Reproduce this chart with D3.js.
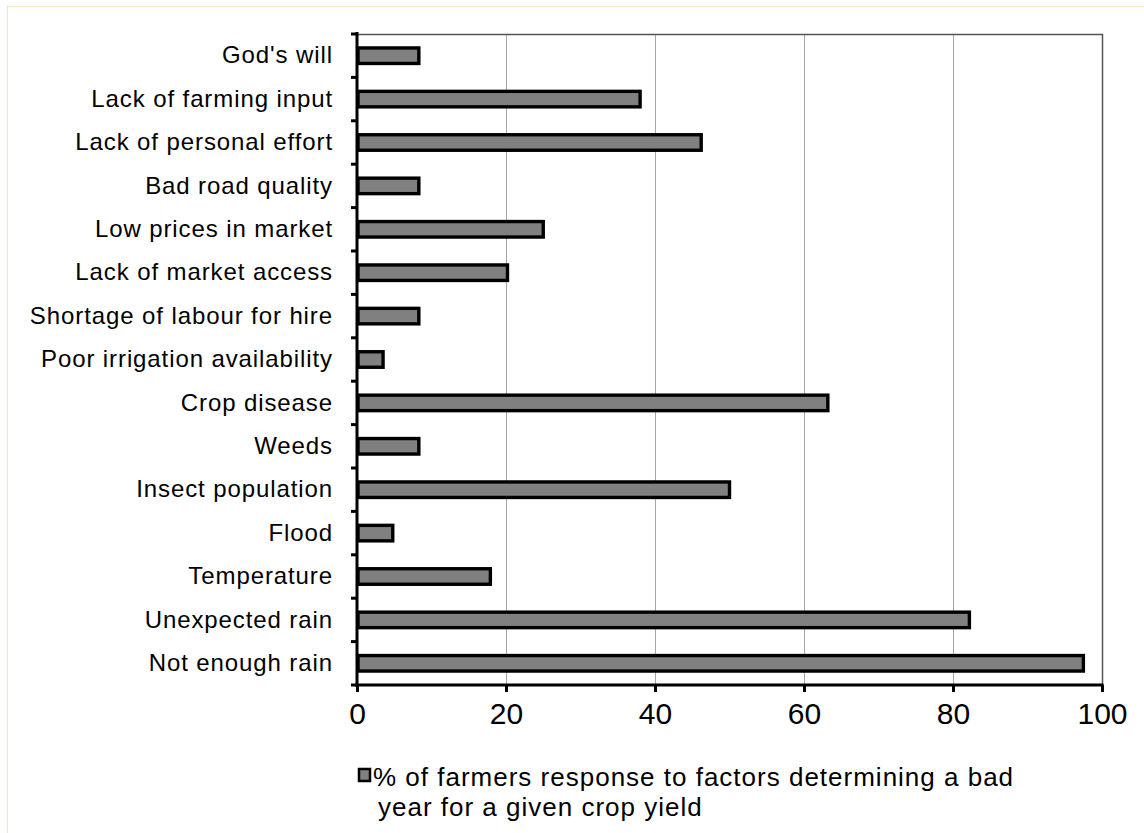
<!DOCTYPE html>
<html>
<head>
<meta charset="utf-8">
<script src="https://cdn.jsdelivr.net/npm/d3@7"></script>
<style>
  html, body { margin: 0; padding: 0; background: #fff; }
  svg { display: block; font-family: "Liberation Sans", Arial, sans-serif; }
</style>
</head>
<body>
<svg id="chart" width="1144" height="833"></svg>
<script>
// Factors listed top to bottom
const categories = [
  "God's will",
  "Lack of farming input",
  "Lack of personal effort",
  "Bad road quality",
  "Low prices in market",
  "Lack of market access",
  "Shortage of labour for hire",
  "Poor irrigation availability",
  "Crop disease",
  "Weeds",
  "Insect population",
  "Flood",
  "Temperature",
  "Unexpected rain",
  "Not enough rain"
];
// % of farmers naming each factor
const responses = [8.3, 38, 46.2, 8.3, 25, 20.2, 8.3, 3.5, 63.2, 8.3, 50, 4.8, 17.9, 82.2, 97.5];
const xTicks = [0, 20, 40, 60, 80, 100];
const legendLines = [
  "% of farmers response to factors determining a bad",
  "year for a given crop yield"
];

const svg = d3.select("#chart");

// outer frame
svg.append("rect")
  .attr("x", 7.5).attr("y", 6.5)
  .attr("width", 1150).attr("height", 840)
  .attr("fill", "none")
  .attr("stroke", "#fbe2cb")
  .attr("stroke-width", 1);

const plot = { left: 357, right: 1102, top: 34, bottom: 685 };

const x = d3.scaleLinear().domain([0, 100]).range([plot.left, plot.right]);
const y = d3.scaleBand().domain(categories).range([plot.top, plot.bottom]).paddingInner(0).paddingOuter(0);

// vertical gridlines
svg.append("g")
  .selectAll("line")
  .data(xTicks.filter(t => t > 0 && t < 100))
  .join("line")
  .attr("x1", d => Math.round(x(d)) + 0.5)
  .attr("x2", d => Math.round(x(d)) + 0.5)
  .attr("y1", plot.top)
  .attr("y2", plot.bottom)
  .attr("stroke", "#a6a6a6")
  .attr("stroke-width", 1);

// plot area top and right edges
svg.append("path")
  .attr("d", `M${plot.left},${plot.top + 0.5}H${plot.right + 0.5}V${plot.bottom}`)
  .attr("fill", "none")
  .attr("stroke", "#555")
  .attr("stroke-width", 1.5);

// bars
const barH = 15.5;
svg.append("g")
  .selectAll("rect")
  .data(categories.map((c, i) => ({ c, v: responses[i] })))
  .join("rect")
  .attr("x", x(0) + 1)
  .attr("y", d => y(d.c) + y.bandwidth() / 2 - barH / 2)
  .attr("width", d => x(d.v) - x(0) - 1)
  .attr("height", barH)
  .attr("fill", "#808080")
  .attr("stroke", "#000")
  .attr("stroke-width", 3.4);

// left axis
const yAxis = svg.append("g")
  .attr("transform", `translate(${plot.left},0)`)
  .call(d3.axisLeft(y).tickSize(0).tickPadding(24));
yAxis.select(".domain").remove();
yAxis.selectAll("text")
  .attr("font-size", 24)
  .attr("letter-spacing", "0.9px")
  .attr("fill", "#000")
  .attr("font-family", "'Liberation Sans', Arial, sans-serif");

svg.append("line")
  .attr("x1", plot.left).attr("x2", plot.left)
  .attr("y1", plot.top - 2).attr("y2", plot.bottom + 2)
  .attr("stroke", "#000").attr("stroke-width", 3);

// category tick marks on band boundaries
svg.append("g")
  .selectAll("line")
  .data(d3.range(categories.length + 1))
  .join("line")
  .attr("x1", plot.left - 6).attr("x2", plot.left)
  .attr("y1", i => plot.top + i * y.step())
  .attr("y2", i => plot.top + i * y.step())
  .attr("stroke", "#000").attr("stroke-width", 3);

// bottom axis
const xAxis = svg.append("g")
  .attr("transform", `translate(0,${plot.bottom})`)
  .call(d3.axisBottom(x).tickValues(xTicks).tickSize(7).tickPadding(11).tickFormat(d3.format("d")));
xAxis.select(".domain").remove();
xAxis.selectAll("line").attr("stroke", "#000").attr("stroke-width", 3);
xAxis.selectAll("text")
  .attr("font-size", 30)
  .attr("fill", "#000")
  .attr("font-family", "'Liberation Sans', Arial, sans-serif");

svg.append("line")
  .attr("x1", plot.left - 1.5).attr("x2", plot.right + 1.5)
  .attr("y1", plot.bottom).attr("y2", plot.bottom)
  .attr("stroke", "#000").attr("stroke-width", 3);

// legend
const legend = svg.append("g");
legend.append("rect")
  .attr("x", 359).attr("y", 769)
  .attr("width", 11).attr("height", 12)
  .attr("fill", "#808080")
  .attr("stroke", "#000")
  .attr("stroke-width", 2.5);
legend.selectAll("text")
  .data(legendLines)
  .join("text")
  .attr("x", (d, i) => i === 0 ? 373 : 378)
  .attr("y", (d, i) => 786 + i * 30)
  .attr("font-size", 26)
  .attr("letter-spacing", "1px")
  .attr("fill", "#000")
  .text(d => d);
</script>
</body>
</html>
